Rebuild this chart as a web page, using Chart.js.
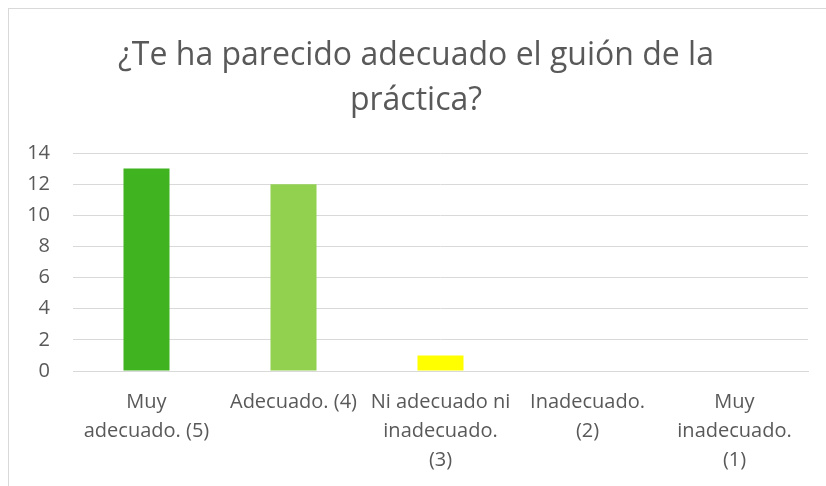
<!DOCTYPE html>
<html>
<head>
<meta charset="utf-8">
<script src="https://cdn.jsdelivr.net/npm/chart.js@4"></script>
<style>
  html, body { margin: 0; padding: 0; background: #fff; overflow: hidden; }
  #wrap { position: relative; width: 826px; height: 486px; }
  #frame { position: absolute; left: 8px; top: 8px; width: 840px; height: 500px; border: 1px solid #d9d9d9; box-sizing: border-box; }
  canvas { position: absolute; left: 0; top: 0; }
</style>
</head>
<body>
<div id="wrap">
  <div id="frame"></div>
  <canvas id="chart" width="826" height="486"></canvas>
</div>
<script>
// chart data
const titleLines = ['¿Te ha parecido adecuado el guión de la', 'práctica?'];
const categories = [
    ['Muy', 'adecuado. (5)'],
    'Adecuado. (4)',
    ['Ni adecuado ni', 'inadecuado.', '(3)'],
    ['Inadecuado.', '(2)'],
    ['Muy', 'inadecuado.', '(1)']
];
const responses = [13, 12, 1, 0, 0];
const barColors = ['#40b320', '#92d050', '#ffff00', '#ffc000', '#ff0000'];
const yTicks = { min: 0, max: 14, step: 2 };

const textColor = '#595959';
const gridColor = '#d9d9d9';

const ctx = document.getElementById('chart').getContext('2d');

const chart = new Chart(ctx, {
    type: 'bar',
    data: {
        labels: categories,
        datasets: [{
            data: responses,
            backgroundColor: barColors,
            borderWidth: 0,
            barPercentage: 0.313,
            categoryPercentage: 1
        }]
    },
    options: {
        responsive: false,
        animation: false,
        layout: {
            padding: { left: 24, right: 18, top: 0, bottom: 0 }
        },
        plugins: {
            legend: { display: false },
            tooltip: { enabled: false },
            title: {
                display: true,
                text: titleLines,
                color: textColor,
                font: { family: 'Open Sans', size: 32, weight: 'normal', lineHeight: '45px' },
                padding: { top: 33, bottom: 30 }
            }
        },
        scales: {
            x: {
                grid: { display: false, drawTicks: false },
                border: { display: true, color: gridColor, width: 1 },
                ticks: {
                    color: textColor,
                    font: { family: 'Open Sans', size: 20, lineHeight: '29px' },
                    padding: 17,
                    maxRotation: 0,
                    autoSkip: false
                },
                afterFit: (scale) => { scale.height = 115; }
            },
            y: {
                min: yTicks.min,
                max: yTicks.max,
                grid: { color: gridColor, lineWidth: 1, drawTicks: false },
                border: { display: false },
                ticks: {
                    stepSize: yTicks.step,
                    color: textColor,
                    font: { family: 'Open Sans', size: 20 },
                    padding: 23
                },
                afterFit: (scale) => { scale.width = 49; }
            }
        }
    }
});
</script>
</body>
</html>
